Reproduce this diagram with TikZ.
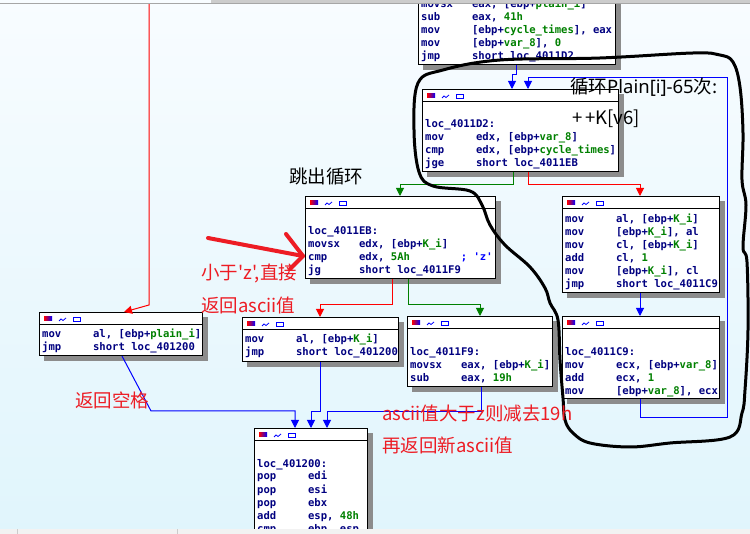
\documentclass[tikz,border=0pt]{standalone}
\usepackage{fontspec}
\newfontfamily\cjk[Ligatures=ResetAll]{Noto Sans CJK SC}
\newfontfamily\latin{Noto Sans}
\newfontfamily\idafont[Ligatures=ResetAll]{DejaVu Sans Mono}
\usetikzlibrary{arrows.meta,calc,positioning}

\definecolor{idanavy}{RGB}{0,0,128}
\definecolor{idagreen}{RGB}{0,128,0}
\definecolor{idablue}{RGB}{0,0,255}
\definecolor{idared}{RGB}{255,0,0}
\definecolor{annred}{RGB}{237,28,36}
\definecolor{bgtop}{RGB}{248,252,255}
\definecolor{bgbot}{RGB}{224,245,252}
\definecolor{idashadow}{RGB}{140,140,140}

% one asm line: mnemonic column, then operands
\newcommand{\idaln}[2]{\makebox[50.9pt][l]{#1}#2}
\newcommand{\idagn}[1]{\textcolor{idagreen}{#1}}
% shadow of a block
\newcommand{\idashade}[1]{%
	\fill[idashadow] ([shift={(0pt,-5pt)}]#1.north east) rectangle ([shift={(5pt,-5pt)}]#1.south east);
	\fill[idashadow] ([shift={(5pt,0pt)}]#1.south west) rectangle ([shift={(5pt,-5pt)}]#1.south east);
}
% header bar and the three icons of a block
\newcommand{\idahead}[1]{%
	\draw[line width=1pt] ($(#1.north west)+(0,13)$) -- ($(#1.north east)+(0,13)$);
	\shade[left color=red, middle color=yellow, right color=blue] ($(#1.north west)+(5,5)$) rectangle ++(8,4);
	\draw[idablue, line width=0.8pt] ($(#1.north west)+(20,9)$) -- ++(2,-2) -- ++(2,1.5) -- ++(3,-2.5);
	\draw[idablue, line width=0.8pt, fill=white] ($(#1.north west)+(34,5)$) rectangle ++(7,4);
}

\tikzset{
	idabox/.style={draw=black, line width=1pt, fill=white, anchor=north west, inner sep=0pt},
	code/.style={font=\idafont\bfseries\fontsize{10.57}{13}\selectfont, text=idanavy,
		anchor=base west, align=left, inner sep=0pt},
	note/.style={font=\cjk\fontsize{18.5}{20}\selectfont, text=annred, anchor=west, inner sep=0pt},
	blk/.style={note, text=black},
	bedge/.style={draw=idablue, line width=1pt, -{Triangle[width=8pt,length=8pt]}},
	gedge/.style={draw=idagreen, line width=1pt, -{Triangle[width=8pt,length=8pt]}},
	redge/.style={draw=idared, line width=1pt, -{Triangle[width=8pt,length=8pt]}},
}

\begin{document}
\begin{tikzpicture}[x=1pt, y=-1pt]
	\useasboundingbox (0,0) rectangle (750,534);
	\clip (0,0) rectangle (750,534);
	\shade[top color=bgtop, bottom color=bgbot] (0,0) rectangle (750,534);

	% blocks
	\node[idabox, minimum width=197pt, minimum height=89pt] (T) at (418,-25) {};
	\node[idabox, minimum width=196pt, minimum height=82pt] (D2) at (422,89) {};
	\node[idabox, minimum width=190pt, minimum height=82pt] (EB) at (305,196) {};
	\node[idabox, minimum width=157pt, minimum height=96pt] (K) at (562,196) {};
	\node[idabox, minimum width=157pt, minimum height=82pt] (C9) at (562,316) {};
	\node[idabox, minimum width=145pt, minimum height=70pt] (F9) at (407,316) {};
	\node[idabox, minimum width=156pt, minimum height=44pt] (M) at (242,317) {};
	\node[idabox, minimum width=163pt, minimum height=43pt] (L) at (39,312) {};
	\node[idabox, minimum width=113pt, minimum height=120pt] (E) at (254,428) {};
	\foreach \b in {T,D2,EB,K,C9,F9,M,L,E} {\idashade{\b}}
	\idahead{D2} \idahead{EB} \idahead{K} \idahead{C9} \idahead{F9} \idahead{M} \idahead{L} \idahead{E}

	% edges
	\coordinate (Lin) at (149,4);
	\draw[bedge] (T.south -| 516,0) -- ++(0,10) -| (D2.north -| 512,0);
	\draw[bedge] (C9.south -| 640,0) -- ++(0,19) -| (727,78) -| (D2.north -| 528,0);
	\draw[gedge] (D2.south -| 513,0) -- ++(0,13) -| (EB.north -| 400,0);
	\draw[redge] (D2.south -| 528,0) -- ++(0,13) -| (K.north -| 640,0);
	\draw[bedge] (K.south -| 640,0) -- (C9.north -| 640,0);
	\draw[redge] (EB.south -| 392,0) -- ++(0,26) -| (M.north -| 320,0);
	\draw[gedge] (EB.south -| 408,0) -- ++(0,26) -| (F9.north -| 480,0);
	\draw[bedge] (M.south -| 320,0) -- ++(0,50) -| (E.north -| 311,0);
	\draw[bedge] (F9.south -| 481,0) -- ++(0,25) -| (E.north -| 327,0);
	\draw[bedge] (L.south -| 122,0) -- (151,411) -| (E.north -| 295,0);
	\draw[redge] (Lin) -- (149,305) -- (L.north -| 124,0);

	% code (node base = last line)
	\node[code] (Tt) at ($(T.north west)+(3,85)$) {\idaln{movsx}{eax, [ebp+\idagn{plain\_i}]}\\
		\idaln{sub}{eax, \idagn{41h}}\\
		\idaln{mov}{[ebp+\idagn{cycle\_times}], eax}\\
		\idaln{mov}{[ebp+\idagn{var\_8}], \idagn{0}}\\
		\idaln{jmp}{short loc\_4011D2}};
	\node[code] (D2t) at ($(D2.north west)+(3,78)$) {loc\_4011D2:\\
		\idaln{mov}{edx, [ebp+\idagn{var\_8}]}\\
		\idaln{cmp}{edx, [ebp+\idagn{cycle\_times}]}\\
		\idaln{jge}{short loc\_4011EB}};
	\node[code] (EBt) at ($(EB.north west)+(3,78)$) {loc\_4011EB:\\
		\idaln{movsx}{edx, [ebp+\idagn{K\_i}]}\\
		\idaln{cmp}{\makebox[101.8pt][l]{edx, \idagn{5Ah}}\textcolor{idablue}{; 'z'}}\\
		\idaln{jg}{short loc\_4011F9}};
	\node[code] (Kt) at ($(K.north west)+(3,92)$) {\idaln{mov}{al, [ebp+\idagn{K\_i}]}\\
		\idaln{mov}{[ebp+\idagn{K\_i}], al}\\
		\idaln{mov}{cl, [ebp+\idagn{K\_i}]}\\
		\idaln{add}{cl, \idagn{1}}\\
		\idaln{mov}{[ebp+\idagn{K\_i}], cl}\\
		\idaln{jmp}{short loc\_4011C9}};
	\node[code] (C9t) at ($(C9.north west)+(3,79)$) {loc\_4011C9:\\
		\idaln{mov}{ecx, [ebp+\idagn{var\_8}]}\\
		\idaln{add}{ecx, \idagn{1}}\\
		\idaln{mov}{[ebp+\idagn{var\_8}], ecx}};
	\node[code] (F9t) at ($(F9.north west)+(3,66)$) {loc\_4011F9:\\
		\idaln{movsx}{eax, [ebp+\idagn{K\_i}]}\\
		\idaln{sub}{eax, \idagn{19h}}};
	\node[code] (Mt) at ($(M.north west)+(3,39)$) {\idaln{mov}{al, [ebp+\idagn{K\_i}]}\\
		\idaln{jmp}{short loc\_401200}};
	\node[code] (Lt) at ($(L.north west)+(3,39)$) {\idaln{mov}{al, [ebp+\idagn{plain\_i}]}\\
		\idaln{jmp}{short loc\_401200}};
	\node[code] (Et) at ($(E.north west)+(3,104)$) {loc\_401200:\\
		\idaln{pop}{edi}\\
		\idaln{pop}{esi}\\
		\idaln{pop}{ebx}\\
		\idaln{add}{esp, \idagn{48h}}\\
		\idaln{cmp}{ebp, esp}};

	% window edges
	\fill[gray!40] (211,0) rectangle (750,3);
	\draw[gray!70, line width=1pt] (0,3.5) -- (750,3.5);
	\fill[gray!10] (0,529) rectangle (750,534);
	\draw[gray!40, line width=0.8pt] (17,529) -- (17,534) (177,529) -- (177,534);

	% hand-drawn marks
	\draw[line width=3pt, line join=round] plot[smooth cycle, tension=0.6] coordinates {(418,83) (443,70) (500,60) (600,58) (693,53) (720,55) (733,62) (740,87) (743,133) (742,180) (746,205) (743,247) (747,262) (748,330) (745,390) (742,413) (730,437) (670,443) (630,447) (590,443) (573,433) (565,420) (563,398) (560,360) (558,320) (550,303) (545,288) (530,267) (505,245) (490,225) (482,205) (470,191) (433,186) (419,172) (414,130)};
	\draw[annred, line width=4pt, line cap=round, line join=round] (208,238) -- (303,256);
	\draw[annred, line width=4pt, line cap=round, line join=round] (286,234) -- (303,256) -- (290,269);

	% notes
	\node[blk] (jump) at (289,177) {跳出循环};
	\node[blk] (loop) at (570,87) {循环{\latin Plain[i]-65}次:};
	\node[blk] (inc) at (572,119) {+\hspace{3pt}+K[v6]};
	\node[note] (less1) at (201,273) {小于'z',直接};
	\node[note] (less2) at (201,305) {返回ascii值};
	\node[note] (space) at (75,400) {返回空格};
	\node[note] (big1) at (382,413) {ascii值大于z则减去19h};
	\node[note] (big2) at (382,445) {再返回新ascii值};
\end{tikzpicture}
\end{document}
